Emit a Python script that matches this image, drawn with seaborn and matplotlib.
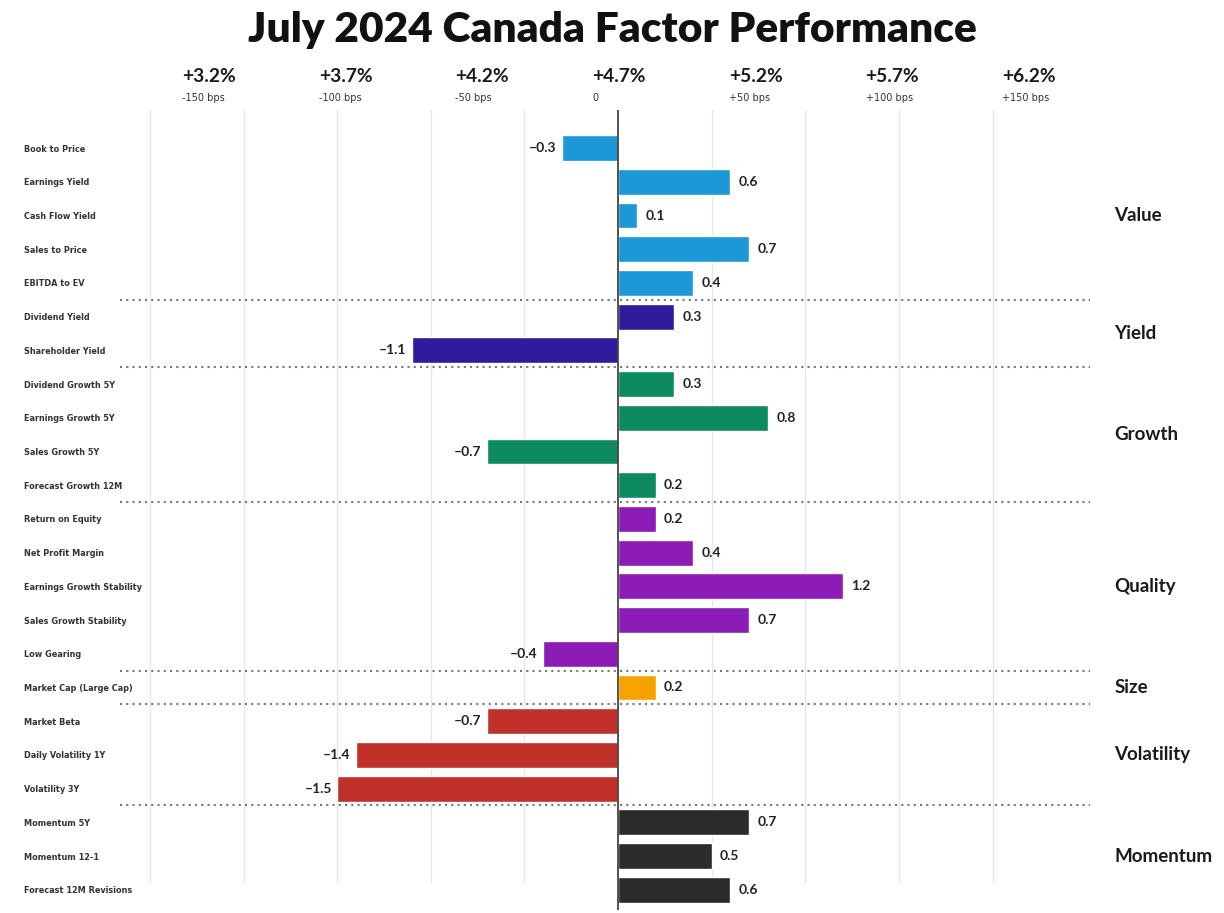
import matplotlib
matplotlib.use("Agg")
import matplotlib.pyplot as plt
import seaborn as sns
import pandas as pd

sns.set_style("white")
plt.rcParams['font.family'] = ['Lato', 'DejaVu Sans']

factors = ["Book to Price", "Earnings Yield", "Cash Flow Yield", "Sales to Price", "EBITDA to EV",
           "Dividend Yield", "Shareholder Yield",
           "Dividend Growth 5Y", "Earnings Growth 5Y", "Sales Growth 5Y", "Forecast Growth 12M",
           "Return on Equity", "Net Profit Margin", "Earnings Growth Stability", "Sales Growth Stability", "Low Gearing",
           "Market Cap (Large Cap)",
           "Market Beta", "Daily Volatility 1Y", "Volatility 3Y",
           "Momentum 5Y", "Momentum 12-1", "Forecast 12M Revisions"]
values = [-0.3, 0.6, 0.1, 0.7, 0.4,
          0.3, -1.1,
          0.3, 0.8, -0.7, 0.2,
          0.2, 0.4, 1.2, 0.7, -0.4,
          0.2,
          -0.7, -1.4, -1.5,
          0.7, 0.5, 0.6]
groups = (["Value"] * 5 + ["Yield"] * 2 + ["Growth"] * 4 + ["Quality"] * 5 + ["Size"]
          + ["Volatility"] * 3 + ["Momentum"] * 3)
group_names = ["Value", "Yield", "Growth", "Quality", "Size", "Volatility", "Momentum"]
group_colors = ["#1b98d5", "#2f1c9c", "#0e8a62", "#8c1cb5", "#f6a300", "#c0312a", "#2b2b2b"]

header_pct = ["+3.2%", "+3.7%", "+4.2%", "+4.7%", "+5.2%", "+5.7%", "+6.2%"]
header_bps = ["-150 bps", "-100 bps", "-50 bps", "0", "+50 bps", "+100 bps", "+150 bps"]

df = pd.DataFrame({"factor": factors, "value": values, "group": groups})

W, H = 1224, 913
fig = plt.figure(figsize=(W / 100, H / 100), dpi=100)
ax = fig.add_axes([120 / W, 1 - 910 / H, (1090 - 120) / W, (910 - 110) / H])

sns.barplot(data=df, x="value", y="factor", hue="group", hue_order=group_names,
            palette=dict(zip(group_names, group_colors)), dodge=False, width=0.77,
            legend=False, ax=ax, orient="h", saturation=1)

ax.set_xlim(-2.66, 2.52)
ax.set_ylim(22.6, -1.13)
for s in ax.spines.values():
    s.set_visible(False)
ax.set_xlabel("")
ax.set_ylabel("")
ax.set_xticks([])

# gridlines
for gx in [-2.5, -2.0, -1.5, -1.0, -0.5, 0.5, 1.0, 1.5, 2.0]:
    ax.axvline(gx, ymin=0.035, ymax=1.0, color="#e6e6e6", lw=1, zorder=0)
ax.axvline(0, color="#444444", lw=1.3, zorder=3)

# group labels and separators
n = len(factors)
idx = 0
sep_positions = []
for g in group_names:
    cnt = groups.count(g)
    center = idx + (cnt - 1) / 2
    ax.text(1.025, center, g, transform=ax.get_yaxis_transform(), ha="left", va="center",
            fontsize=13.5, fontweight="bold", color="#1a1a1a")
    idx += cnt
    if idx < n:
        sep_positions.append(idx - 0.5)
for sp in sep_positions:
    ax.axhline(sp, color="#777777", lw=1.5, linestyle=(0, (1, 2)), zorder=4)

# value labels
for i, v in enumerate(values):
    lab = f"{v:.1f}".replace("-", "\u2013")
    if v >= 0:
        ax.annotate(lab, (v, i), xytext=(6, 0), textcoords="offset points", ha="left", va="center",
                    fontsize=10, fontweight="bold", color="#222222")
    else:
        ax.annotate(lab, (v, i), xytext=(-4, 0), textcoords="offset points", ha="right", va="center",
                    fontsize=10, fontweight="bold", color="#222222")

# y tick labels, left aligned at the figure edge
ax.tick_params(axis="y", length=0, pad=69)
for t in ax.get_yticklabels():
    t.set_ha("left")
    t.set_fontsize(5.9)
    t.set_fontweight("bold")
    t.set_family("DejaVu Sans")
    t.set_color("#333333")

# header
for k, (p, b) in enumerate(zip(header_pct, header_bps)):
    x0 = (182 + 136.7 * k) / W
    fig.text(x0, 1 - 76 / H, p, ha="left", va="center", fontsize=13.8, fontweight="bold", color="#1a1a1a")
    fig.text(x0, 1 - 98 / H, b, ha="left", va="center", fontsize=7, family="DejaVu Sans", color="#333333")

fig.text(0.5, 1 - 30 / H, "July 2024 Canada Factor Performance", ha="center", va="center",
         fontsize=30.5, fontweight="heavy", color="#111111")

fig.savefig("out.png", dpi=100, facecolor="white")
